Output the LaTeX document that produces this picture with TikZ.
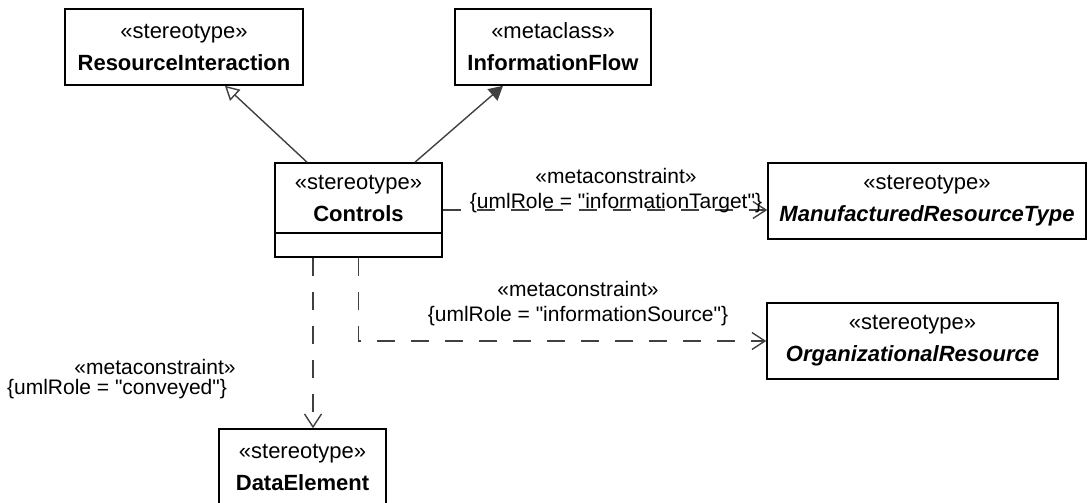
\documentclass[tikz,border=0pt]{standalone}
\usepackage{fontspec}
\setmainfont{Liberation Sans}
\usetikzlibrary{arrows.meta,positioning}
\definecolor{linegray}{RGB}{64,64,64}

\begin{document}
\begin{tikzpicture}[x=1pt, y=-1pt,
  box/.style={draw=black, line width=1.6pt, fill=white, inner sep=0pt,
              align=center, minimum height=76pt, font=\fontsize{22}{32}\selectfont},
  boxtext/.style={inner sep=0pt, align=center, font=\fontsize{22}{32}\selectfont},
  lbl/.style={inner sep=0pt, align=center, font=\fontsize{21}{25}\selectfont},
  gen/.style={-{Triangle[open, length=14pt, width=15pt]}, line width=1.4pt, linegray},
  flow/.style={-{Triangle[length=14pt, width=15pt]}, line width=1.4pt, linegray},
  dep/.style={-{Straight Barb[length=13pt, width=17pt]}, line width=1.4pt, linegray,
              dash pattern=on 18pt off 16pt}
]
\useasboundingbox (0,0) rectangle (1089,503);

\node[box, minimum width=238pt] (resint) at (184,47)
  {«stereotype»\\\textbf{ResourceInteraction}};
\node[box, minimum width=196pt] (infoflow) at (553,47)
  {«metaclass»\\\textbf{InformationFlow}};

% Controls with empty attribute compartment
\node[box, minimum width=167pt, minimum height=94pt] (controls) at (358.5,210) {};
\node[boxtext] (controlsname) at (358.5,198) {«stereotype»\\\textbf{Controls}};
\draw[line width=1.6pt] (controls.west |- 0,233) -- (controls.east |- 0,233);

\node[box, minimum width=318pt] (mrt) at (927,201)
  {«stereotype»\\\textbf{\textit{ManufacturedResourceType}}};
\node[box, minimum width=291pt] (orgres) at (912.5,341)
  {«stereotype»\\\textbf{\textit{OrganizationalResource}}};
\node[box, minimum width=167pt] (dataelem) at (302.5,467)
  {«stereotype»\\\textbf{DataElement}};

\draw[gen] ([xshift=-51.5pt]controls.north) -- ([xshift=41pt]resint.south);
\draw[flow] ([xshift=56.5pt]controls.north) -- ([xshift=-50pt]infoflow.south);

\draw[dep] (controls.east) -- (controls.east -| mrt.west);
\draw[dep] (controls.south) |- (orgres.west);
\draw[dep] ([xshift=-45.5pt]controls.south) -- ([xshift=-45.5pt]controls.south |- dataelem.north);

\node[lbl] (tgtlbl) at (616,191)
  {«metaconstraint»\\\{umlRole = \textquotedbl informationTarget\textquotedbl\}};
\node[lbl] (srclbl) at (578,304)
  {«metaconstraint»\\\{umlRole = \textquotedbl informationSource\textquotedbl\}};
\node[lbl] (convstereo) at (155,367) {«metaconstraint»};
\node[lbl] (convrole) at (117,389) {\{umlRole = \textquotedbl conveyed\textquotedbl\}};
\end{tikzpicture}
\end{document}
